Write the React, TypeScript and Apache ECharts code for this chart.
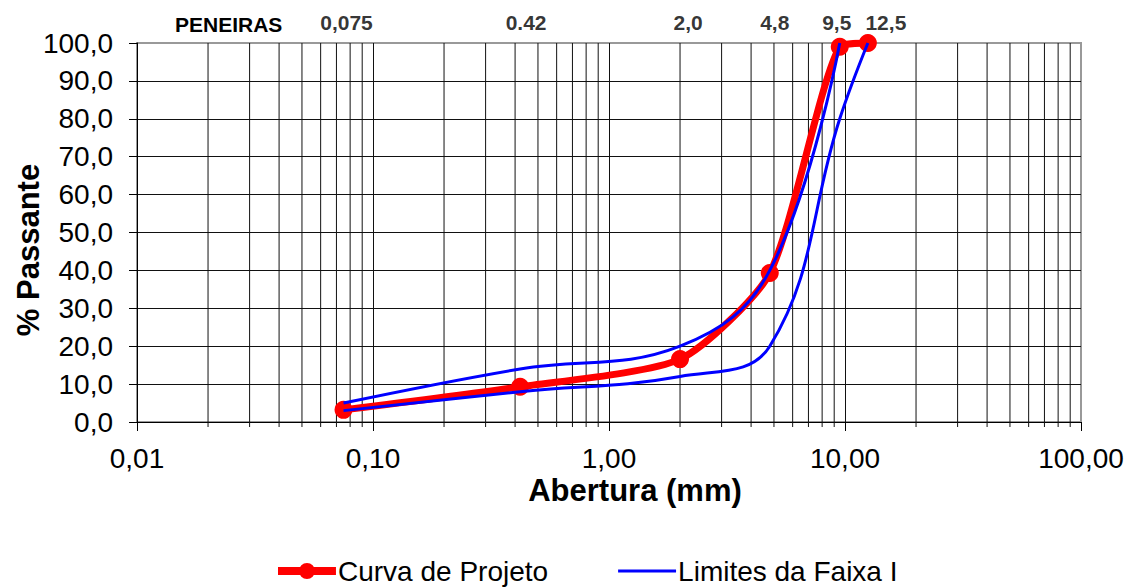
import React, { useEffect, useRef } from "react";
import * as echarts from "echarts";

const sieveSizes = [0.075, 0.42, 2.0, 4.8, 9.5, 12.5];
const sieveLabels = ["0,075", "0.42", "2,0", "4,8", "9,5", "12,5"];
const projectCurve = [3.2, 9.3, 16.6, 39.3, 99, 100];
const upperLimit = [5, 14, 20, 40, 100, null];
const lowerLimit = [3, 8, 12, 20, 80, 100];
const xDecades = [0.01, 0.1, 1, 10, 100];
const minorMultipliers = [2, 3, 4, 5, 6, 7, 8, 9];

const FONT = "'Liberation Sans', Arial, sans-serif";

// legend icons (58 x 16 box)
const RED_ICON =
  "path://M0 0h0.01v0.01h-0.01Z M0 16h0.01v0.01h-0.01Z M58 0h0.01v0.01h-0.01Z M0 4H58V12H0Z M21 8A8 8 0 1 1 37 8A8 8 0 1 1 21 8Z";
const BLUE_ICON =
  "path://M0 0h0.01v0.01h-0.01Z M0 16h0.01v0.01h-0.01Z M58 0h0.01v0.01h-0.01Z M0 6.5H58V9.5H0Z";

export default function App() {
  const ref = useRef<HTMLDivElement>(null);
  useEffect(() => {
    if (!ref.current) return;
    const chart = echarts.init(ref.current, null, { renderer: "svg" });
    const minorGrid: number[][] = [];
    xDecades.slice(0, -1).forEach((d) =>
      minorMultipliers.forEach((m) => minorGrid.push([+(d * m).toPrecision(3), 0]))
    );
    const pair = (ys: (number | null)[]) =>
      sieveSizes.map((x, i) => [x, ys[i]]).filter((p) => p[1] !== null);
    const labelOffsets: Record<string, number[]> = {
      "12,5": [18, 0],
      "9,5": [-3, 0],
      "0.42": [6, 0],
      "2,0": [8, 0],
      "4,8": [5, 0],
    };
    chart.setOption({
      animation: false,
      backgroundColor: "#fff",
      textStyle: { fontFamily: FONT },
      grid: { left: 137, right: 47, top: 43, bottom: 165, show: true, borderColor: "#999", borderWidth: 2 },
      legend: {
        data: [
          { name: "Curva de Projeto", icon: RED_ICON },
          { name: "Limites da Faixa I", icon: BLUE_ICON },
        ],
        left: 273,
        top: 551,
        itemWidth: 58,
        itemHeight: 16,
        itemGap: 70,
        textStyle: { fontSize: 28, lineHeight: 30, color: "#000", fontFamily: FONT, padding: [0, 0, 0, -3] },
      },
      xAxis: {
        type: "log",
        logBase: 10,
        min: 0.01,
        max: 100,
        axisLine: { lineStyle: { color: "#000", width: 1 } },
        axisTick: { length: 9, lineStyle: { color: "#000" } },
        axisLabel: {
          fontSize: 28,
          color: "#000",
          margin: 22,
          formatter: (v: number) => v.toFixed(2).replace(".", ","),
        },
        splitLine: { show: true, showMaxLine: false, lineStyle: { color: "#111", width: 1 } },
      },
      yAxis: {
        type: "value",
        min: 0,
        max: 100,
        interval: 10,
        axisLine: { show: true, lineStyle: { color: "#000", width: 1 } },
        axisTick: { show: true, length: 8, lineStyle: { color: "#000" } },
        axisLabel: {
          fontSize: 28,
          color: "#000",
          margin: 24,
          formatter: (v: number) => v.toFixed(1).replace(".", ","),
        },
        splitLine: { show: true, showMaxLine: false, lineStyle: { color: "#111", width: 1 } },
      },
      graphic: [
        {
          type: "text",
          left: 175,
          top: 14,
          style: { text: "PENEIRAS", font: `bold 21px ${FONT}`, fill: "#000" },
        },
        {
          type: "text",
          x: 635,
          y: 490,
          style: { text: "Abertura (mm)", font: `bold 31px ${FONT}`, fill: "#000", align: "center", verticalAlign: "middle" },
        },
        {
          type: "text",
          x: 28,
          y: 250,
          rotation: Math.PI / 2,
          style: { text: "% Passante", font: `bold 31px ${FONT}`, fill: "#000", align: "center", verticalAlign: "middle" },
        },
      ],
      series: [
        {
          type: "custom",
          silent: true,
          clip: false,
          z: 1,
          encode: { x: 0, y: 1 },
          data: minorGrid,
          renderItem: (params: any, api: any) => {
            const x = api.value(0);
            const top = api.coord([x, 100]);
            const bot = api.coord([x, 0]);
            return {
              type: "line",
              shape: { x1: top[0], y1: top[1], x2: bot[0], y2: bot[1] + 5 },
              style: { stroke: "#111", lineWidth: 1 },
            };
          },
        },
        {
          type: "scatter",
          silent: true,
          symbolSize: 0,
          z: 1,
          data: sieveSizes.map((x) => [x, 100]),
          label: {
            show: true,
            position: "top",
            distance: 10,
            color: "#000",
            fontWeight: "bold",
            fontSize: 21,
            fontFamily: FONT,
            formatter: (p: any) => sieveLabels[p.dataIndex],
          },
          labelLayout: (p: any) => {
            const t = sieveLabels[p.dataIndex];
            const off = labelOffsets[t] || [3, 0];
            return { dx: off[0], dy: off[1] };
          },
        },
        {
          name: "Curva de Projeto",
          type: "line",
          smooth: 0.22,
          data: pair(projectCurve),
          symbol: "circle",
          symbolSize: 18,
          lineStyle: { color: "#ff0000", width: 7 },
          itemStyle: { color: "#ff0000" },
          z: 3,
        },
        {
          name: "Limites da Faixa I",
          type: "line",
          smooth: 0.4,
          data: pair(upperLimit),
          symbol: "none",
          lineStyle: { color: "#0000ff", width: 3 },
          itemStyle: { color: "#0000ff" },
          z: 4,
        },
        {
          name: "Limites da Faixa I",
          type: "line",
          smooth: 0.4,
          data: pair(lowerLimit),
          symbol: "none",
          lineStyle: { color: "#0000ff", width: 3 },
          itemStyle: { color: "#0000ff" },
          z: 4,
        },
      ],
    });
    return () => chart.dispose();
  }, []);
  return <div ref={ref} style={{ position: "fixed", left: 0, top: 0, width: 1128, height: 587 }} />;
}
